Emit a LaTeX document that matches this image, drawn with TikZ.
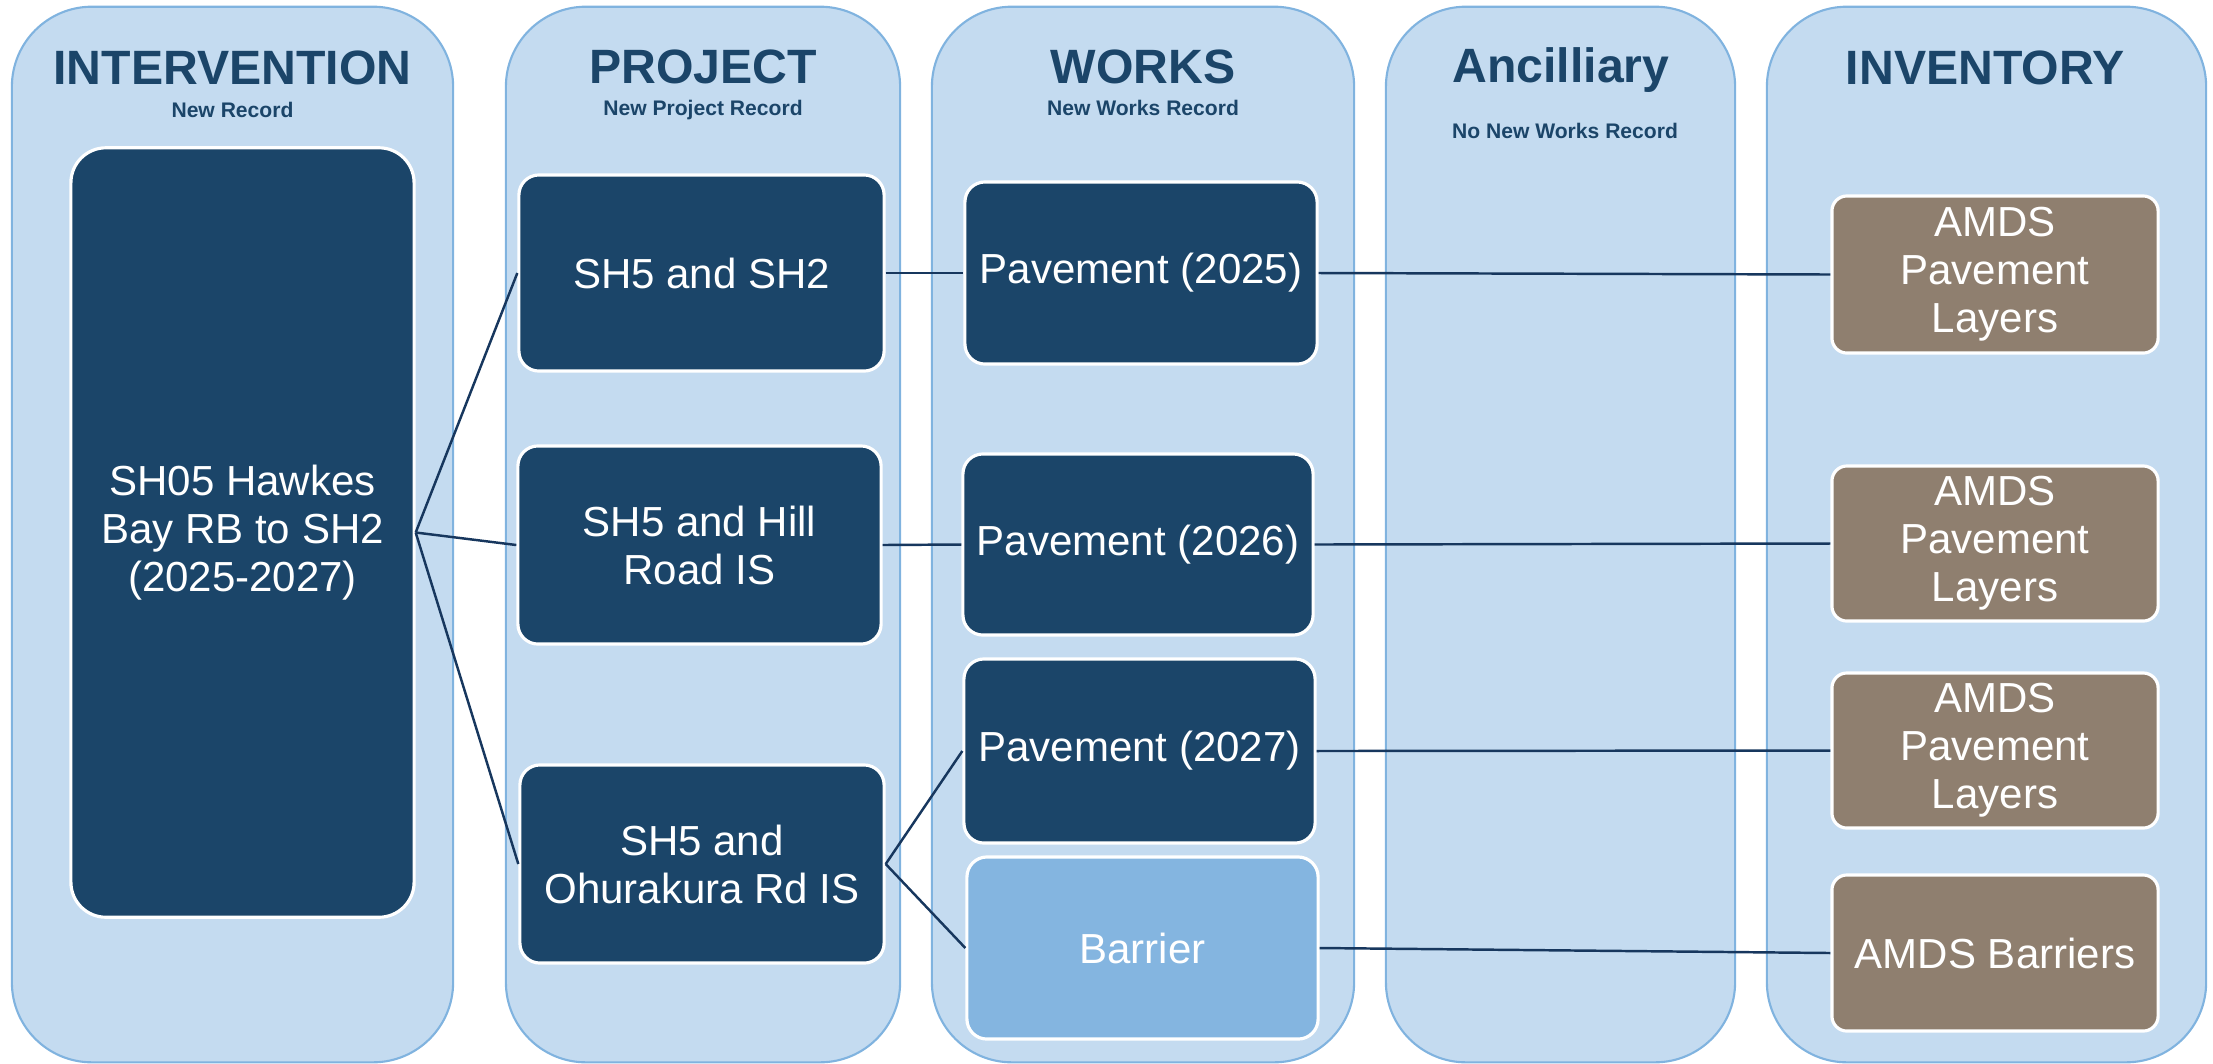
\documentclass[tikz,border=0pt]{standalone}
\usepackage{fontspec}
\setmainfont{Liberation Sans}
\usetikzlibrary{positioning}
\definecolor{laneFill}{RGB}{196,219,240}
\definecolor{laneEdge}{RGB}{128,179,223}
\definecolor{boxDark}{RGB}{27,69,105}
\definecolor{boxLight}{RGB}{132,181,224}
\definecolor{boxTaupe}{RGB}{143,127,111}
\definecolor{headColor}{RGB}{27,69,105}
\definecolor{connColor}{RGB}{23,55,94}
\tikzset{
    lane/.style={
        draw=laneEdge,
        fill=laneFill,
        line width=0.6pt,
        rounded corners=0.8cm,
        minimum height=10.55cm
    },
    lanetitle/.style={
        anchor=base,
        text=headColor,
        font=\bfseries\fontsize{13.7}{16}\selectfont
    },
    lanesub/.style={
        anchor=base,
        text=headColor,
        font=\bfseries\fontsize{6}{7}\selectfont
    },
    recbox/.style={
        draw=white,
        line width=0.9pt,
        fill=boxDark,
        text=white,
        rounded corners=0.2cm,
        align=center,
        inner sep=0pt,
        font=\fontsize{11.95}{13.66}\selectfont
    },
    conn/.style={
        draw=connColor,
        line width=0.7pt
    }
}

\begin{document}
\begin{tikzpicture}[x=0.01cm, y=-0.01cm]
    \useasboundingbox (0,0) rectangle (2213,1063);

    % lanes
    \node[lane, minimum width=4.41cm] (laneInt) at (232.5,534.5) {};
    \node[lane, minimum width=3.94cm] (laneProj) at (703,534.5) {};
    \node[lane, minimum width=4.22cm] (laneWorks) at (1143,534.5) {};
    \node[lane, minimum width=3.49cm] (laneAnc) at (1560.5,534.5) {};
    \node[lane, minimum width=4.39cm] (laneInv) at (1986.5,534.5) {};

    % headings
    \node[lanetitle] (hInt) at (232.5,84) {INTERVENTION};
    \node[lanesub] (sInt) at (232.5,117) {New Record};
    \node[lanetitle] (hProj) at (703,83) {PROJECT};
    \node[lanesub] (sProj) at (703,115) {New Project Record};
    \node[lanetitle] (hWorks) at (1143,83) {WORKS};
    \node[lanesub] (sWorks) at (1143,115) {New Works Record};
    \node[lanetitle] (hAnc) at (1561,82) {Ancilliary};
    \node[lanesub] (sAnc) at (1565,138) {No New Works Record};
    \node[lanetitle] (hInv) at (1985,84) {INVENTORY};

    % intervention
    \node[recbox, minimum width=3.43cm, minimum height=7.69cm, rounded corners=0.35cm] (bInt) at (242.5,532.5) {SH05 Hawkes\\Bay RB to SH2\\(2025-2027)};

    % projects
    \node[recbox, minimum width=3.65cm, minimum height=1.96cm] (bP1) at (701.5,273) {SH5 and SH2};
    \node[recbox, minimum width=3.63cm, minimum height=1.98cm] (bP2) at (699.5,545) {SH5 and Hill\\Road IS};
    \node[recbox, minimum width=3.64cm, minimum height=1.98cm] (bP3) at (702,864) {SH5 and\\Ohurakura Rd IS};

    % works
    \node[recbox, minimum width=3.52cm, minimum height=1.82cm] (bW1) at (1141,273) {Pavement (2025)};
    \node[recbox, minimum width=3.50cm, minimum height=1.81cm] (bW2) at (1138,544.5) {Pavement (2026)};
    \node[recbox, minimum width=3.51cm, minimum height=1.84cm] (bW3) at (1139.5,751) {Pavement (2027)};
    \node[recbox, fill=boxLight, minimum width=3.51cm, minimum height=1.82cm] (bW4) at (1142.5,948) {Barrier};

    % inventory
    \node[recbox, fill=boxTaupe, minimum width=3.26cm, minimum height=1.57cm, rounded corners=0.15cm] (bI1) at (1995,274.5) {AMDS\\Pavement\\Layers};
    \node[recbox, fill=boxTaupe, minimum width=3.26cm, minimum height=1.55cm, rounded corners=0.15cm] (bI2) at (1995,543.5) {AMDS\\Pavement\\Layers};
    \node[recbox, fill=boxTaupe, minimum width=3.26cm, minimum height=1.55cm, rounded corners=0.15cm] (bI3) at (1995,750.5) {AMDS\\Pavement\\Layers};
    \node[recbox, fill=boxTaupe, minimum width=3.26cm, minimum height=1.56cm, rounded corners=0.15cm] (bI4) at (1995,953) {AMDS Barriers};

    % links
    \draw[conn] (bInt.east) -- (bP1.west);
    \draw[conn] (bInt.east) -- (bP2.west);
    \draw[conn] (bInt.east) -- (bP3.west);
    \draw[conn] (bP1.east) -- (bW1.west);
    \draw[conn] (bP2.east) -- (bW2.west);
    \draw[conn] (bP3.east) -- (bW3.west);
    \draw[conn] (bP3.east) -- (bW4.west);
    \draw[conn] (bW1.east) -- (bI1.west);
    \draw[conn] (bW2.east) -- (bI2.west);
    \draw[conn] (bW3.east) -- (bI3.west);
    \draw[conn] (bW4.east) -- (bI4.west);
\end{tikzpicture}
\end{document}
